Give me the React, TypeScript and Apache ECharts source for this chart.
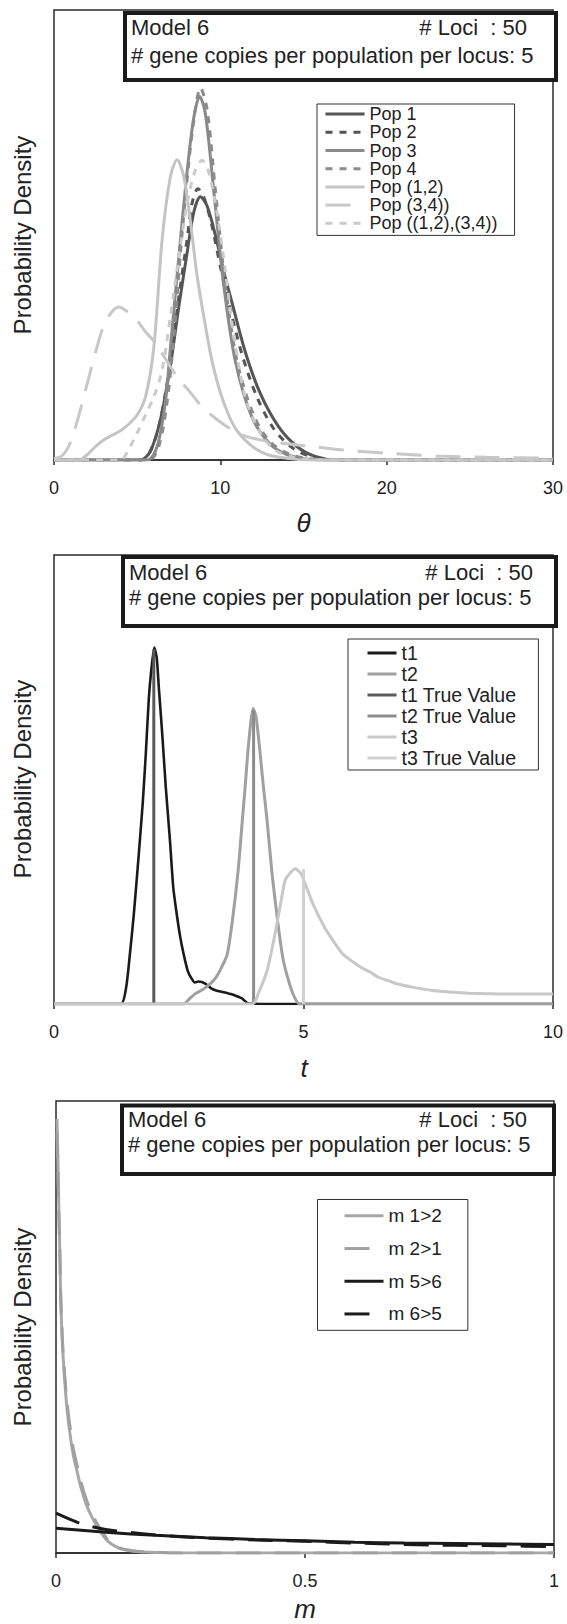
import React, { useEffect, useRef } from "react";
import * as echarts from "echarts";

const FONT = '"Liberation Sans", Arial, Helvetica, sans-serif';
const INK = "#222222";
const FRAME = "#2a2a2a";

// ---------- shared texts ----------
const infoModel = "Model 6";
const infoLoci = "# Loci \u00a0: 50";
const infoCopies = "# gene copies per population per locus: 5";
const yTitle = "Probability Density";

// ---------- chart 1 : theta ----------
const thetaTicks = [0, 10, 20, 30];
const thetaTitle = "θ";
const thetaNames = ["Pop 1", "Pop 2", "Pop 3", "Pop 4", "Pop (1,2)", "Pop (3,4))", "Pop ((1,2),(3,4))"];

const pop1X = [0, 5.2, 5.8, 6.4, 7.0, 7.5, 8.0, 8.4, 8.8, 9.2, 9.7, 10.2, 10.7, 11.5, 12.4, 13.5, 14.6, 15.7, 17.0, 30];
const pop1Y = [0, 0, 0.02, 0.09, 0.21, 0.34, 0.46, 0.55, 0.585, 0.565, 0.5, 0.42, 0.35, 0.24, 0.148, 0.074, 0.03, 0.008, 0, 0];

const pop2X = [0, 5.2, 5.8, 6.4, 7.0, 7.5, 8.0, 8.3, 8.65, 9.0, 9.5, 10.0, 10.5, 11.3, 12.2, 13.2, 14.3, 15.5, 17, 30];
const pop2Y = [0, 0, 0.02, 0.09, 0.22, 0.36, 0.49, 0.57, 0.603, 0.585, 0.52, 0.43, 0.35, 0.235, 0.14, 0.07, 0.028, 0.007, 0, 0];

const pop3X = [0, 5.6, 6.2, 6.7, 7.0, 7.5, 8.0, 8.4, 8.76, 9.1, 9.6, 10.2, 10.9, 11.9, 13.0, 14.0, 15.0, 16.0, 30];
const pop3Y = [0, 0, 0.03, 0.13, 0.25, 0.45, 0.64, 0.76, 0.808, 0.77, 0.6, 0.39, 0.22, 0.095, 0.035, 0.012, 0.003, 0, 0];

const pop4X = [0, 5.7, 6.3, 6.8, 7.2, 7.6, 8.1, 8.5, 8.8, 9.2, 9.7, 10.3, 11.0, 12.0, 13.0, 14.2, 15.5, 16.5, 30];
const pop4Y = [0, 0, 0.03, 0.13, 0.27, 0.46, 0.66, 0.78, 0.827, 0.78, 0.6, 0.39, 0.22, 0.1, 0.04, 0.012, 0.002, 0, 0];

const pop12X = [0, 1.5, 2.0, 2.5, 3.0, 3.5, 4.0, 4.5, 5.0, 5.5, 6.0, 6.5, 7.0, 7.4, 7.8, 8.2, 8.6, 9.0, 9.5, 10.0, 10.5, 11.0, 12.0, 13.0, 14.0, 15, 30];
const pop12Y = [0, 0, 0.012, 0.03, 0.045, 0.055, 0.065, 0.08, 0.1, 0.14, 0.25, 0.49, 0.63, 0.667, 0.63, 0.53, 0.41, 0.32, 0.22, 0.15, 0.1, 0.065, 0.028, 0.01, 0.004, 0, 0];

const pop34X = [0, 0.5, 1.0, 1.5, 2.0, 2.5, 3.0, 3.5, 3.9, 4.4, 5.0, 5.5, 6.1, 6.7, 7.4, 8.2, 8.9, 9.8, 10.7, 11.6, 12.5, 14.0, 15.5, 17.5, 20, 23, 26, 30];
const pop34Y = [0.003, 0.01, 0.04, 0.1, 0.17, 0.24, 0.3, 0.33, 0.34, 0.33, 0.31, 0.285, 0.26, 0.225, 0.185, 0.15, 0.118, 0.09, 0.067, 0.052, 0.044, 0.036, 0.03, 0.022, 0.015, 0.009, 0.006, 0.004];

const popAllX = [0, 4.0, 4.5, 5.0, 5.5, 6.0, 6.5, 7.0, 7.5, 8.0, 8.5, 8.9, 9.3, 9.8, 10.3, 10.8, 11.5, 12.4, 13.3, 14.3, 15.5, 30];
const popAllY = [0, 0, 0.025, 0.06, 0.1, 0.14, 0.2, 0.32, 0.45, 0.57, 0.645, 0.666, 0.64, 0.55, 0.42, 0.28, 0.14, 0.06, 0.022, 0.007, 0, 0];

// ---------- chart 2 : t ----------
const tTicks = [0, 5, 10];
const tTitle = "t";
const tNames = ["t1", "t2", "t1 True Value", "t2 True Value", "t3", "t3 True Value"];

const t1X = [0, 1.34, 1.45, 1.52, 1.6, 1.7, 1.78, 1.84, 1.9, 1.95, 2.01, 2.06, 2.1, 2.17, 2.24, 2.32, 2.39, 2.46, 2.53, 2.6, 2.68, 2.75, 2.82, 2.9, 3.04, 3.15, 3.25, 3.4, 3.54, 3.65, 3.76, 3.9, 4.95, 10];
const t1Y = [0, 0, 0.04, 0.11, 0.2, 0.335, 0.45, 0.558, 0.68, 0.744, 0.794, 0.77, 0.706, 0.6, 0.483, 0.37, 0.26, 0.2, 0.149, 0.11, 0.074, 0.058, 0.048, 0.05, 0.045, 0.035, 0.03, 0.026, 0.022, 0.018, 0.013, 0.001, 0, 0];

const t2X = [0, 2.6, 2.7, 2.82, 2.95, 3.04, 3.15, 3.25, 3.35, 3.47, 3.58, 3.69, 3.76, 3.83, 3.9, 3.99, 4.05, 4.12, 4.2, 4.27, 4.37, 4.48, 4.59, 4.7, 4.8, 4.92, 10];
const t2Y = [0, 0, 0.01, 0.022, 0.03, 0.037, 0.047, 0.06, 0.08, 0.11, 0.19, 0.297, 0.39, 0.483, 0.58, 0.658, 0.64, 0.57, 0.48, 0.409, 0.29, 0.186, 0.1, 0.052, 0.02, 0, 0];

const t3X = [0, 3.98, 4.1, 4.27, 4.4, 4.48, 4.56, 4.63, 4.72, 4.84, 4.95, 5.06, 5.2, 5.42, 5.6, 5.78, 6.0, 6.15, 6.35, 6.51, 6.7, 6.87, 7.2, 7.59, 8.0, 8.32, 8.7, 9.04, 9.5, 10];
const t3Y = [0, 0, 0.025, 0.074, 0.14, 0.186, 0.235, 0.275, 0.29, 0.301, 0.29, 0.26, 0.22, 0.171, 0.14, 0.112, 0.093, 0.082, 0.07, 0.059, 0.052, 0.045, 0.037, 0.03, 0.026, 0.024, 0.023, 0.022, 0.022, 0.022];

const t1TrueX = [2.0, 2.0];
const t1TrueY = [0, 0.79];
const t2TrueX = [4.0, 4.0];
const t2TrueY = [0, 0.655];
const t3TrueX = [5.0, 5.0];
const t3TrueY = [0, 0.3];

// ---------- chart 3 : m ----------
const mTicks = [0, 0.5, 1];
const mTitle = "m";
const mNames = ["m 1>2", "m 2>1", "m 5>6", "m 6>5"];

const m12X = [0.002, 0.004, 0.006, 0.008, 0.0095, 0.013, 0.017, 0.022, 0.028, 0.035, 0.042, 0.05, 0.061, 0.072, 0.083, 0.095, 0.105, 0.12, 0.134, 0.155, 0.178, 0.21, 0.25, 1.0];
const m12Y = [0.96, 0.86, 0.75, 0.65, 0.56, 0.46, 0.39, 0.32, 0.264, 0.215, 0.182, 0.145, 0.107, 0.08, 0.058, 0.038, 0.025, 0.014, 0.008, 0.004, 0.002, 0.001, 0, 0];

const m21X = [0.002, 0.004, 0.006, 0.008, 0.0095, 0.013, 0.017, 0.022, 0.028, 0.035, 0.042, 0.05, 0.061, 0.072, 0.083, 0.095, 0.105, 0.12, 0.134, 0.155, 0.178, 0.21, 0.25, 1.0];
const m21Y = [0.93, 0.84, 0.74, 0.65, 0.57, 0.47, 0.4, 0.335, 0.28, 0.23, 0.195, 0.158, 0.118, 0.088, 0.064, 0.043, 0.028, 0.016, 0.009, 0.005, 0.002, 0.001, 0, 0];

const m56X = [0, 0.1, 0.2, 0.3, 0.4, 0.5, 0.6, 0.7, 0.8, 0.9, 1.0];
const m56Y = [0.055, 0.046, 0.039, 0.034, 0.03, 0.027, 0.024, 0.022, 0.021, 0.02, 0.019];

const m65X = [0, 0.05, 0.1, 0.2, 0.3, 0.4, 0.5, 0.6, 0.7, 0.8, 0.9, 1.0];
const m65Y = [0.088, 0.065, 0.052, 0.04, 0.033, 0.029, 0.026, 0.022, 0.019, 0.017, 0.016, 0.014];

// ---------- helpers ----------
function curve(name: string, xs: number[], ys: number[], color: string, dash: any, gi: number, width = 3, smooth: any = 0.3) {
  return {
    name,
    type: "line",
    xAxisIndex: gi,
    yAxisIndex: gi,
    data: xs.map((x, i) => [x, ys[i]]),
    showSymbol: false,
    symbol: "none",
    smooth,
    silent: true,
    lineStyle: { color, width, type: dash, cap: "butt" },
    itemStyle: { color },
    emphasis: { disabled: true },
  };
}

function xAxisFor(ticks: number[], gi: number) {
  return {
    type: "value",
    gridIndex: gi,
    min: ticks[0],
    max: ticks[ticks.length - 1],
    interval: ticks[1] - ticks[0],
    axisLine: { show: true, lineStyle: { color: FRAME, width: 1.5 } },
    axisTick: { show: true, length: 5, lineStyle: { color: FRAME, width: 1.5 } },
    axisLabel: { color: INK, fontSize: 18, fontFamily: FONT, margin: 19 },
    splitLine: { show: false },
  };
}

function yAxisFor(gi: number) {
  return { type: "value", gridIndex: gi, min: 0, max: 1, show: false, splitLine: { show: false } };
}

function legendFor(names: string[], left: number, top: number, padding: number[], itemWidth: number, fontSize: number, lineHeight: number) {
  return {
    data: names,
    orient: "vertical",
    left,
    top,
    padding,
    itemGap: 0,
    itemWidth,
    itemHeight: 3,
    selectedMode: false,
    borderColor: "#333333",
    borderWidth: 1,
    backgroundColor: "#ffffff",
    itemStyle: { opacity: 0 },
    lineStyle: { width: 3 },
    textStyle: { color: INK, fontSize, fontFamily: FONT, lineHeight },
  };
}

function infoBox(x: number, y: number, w: number, h: number, textX: number, lociRight: number, base1: number, base2: number) {
  const fs = 22;
  const off = 0.347 * fs;
  return [
    { type: "rect", z: 20, shape: { x, y, width: w, height: h }, style: { fill: "#ffffff", stroke: "#1a1a1a", lineWidth: 4 } },
    { type: "text", z: 21, x: textX, y: base1 - off, style: { text: infoModel, fontSize: fs, fontFamily: FONT, fill: INK, align: "left", verticalAlign: "middle" } },
    { type: "text", z: 21, x: lociRight, y: base1 - off, style: { text: infoLoci, fontSize: fs, fontFamily: FONT, fill: INK, align: "right", verticalAlign: "middle" } },
    { type: "text", z: 21, x: textX, y: base2 - off, style: { text: infoCopies, fontSize: fs, fontFamily: FONT, fill: INK, align: "left", verticalAlign: "middle" } },
  ];
}

function yLabel(cy: number) {
  return { type: "text", z: 21, x: 22, y: cy, rotation: Math.PI / 2, style: { text: yTitle, fontSize: 24, fontFamily: FONT, fill: INK, align: "center", verticalAlign: "middle" } };
}

function xTitle(text: string, cx: number, cy: number) {
  return { type: "text", z: 21, x: cx, y: cy, style: { text, fontSize: 26, fontStyle: "italic", fontFamily: FONT, fill: INK, align: "center", verticalAlign: "middle" } };
}

export default function App() {
  const ref = useRef<HTMLDivElement>(null);

  useEffect(() => {
    if (!ref.current) return;
    const chart = echarts.init(ref.current, undefined, { renderer: "svg" });

    const grids = [
      { left: 54, top: 10, width: 499, height: 450 },
      { left: 54, top: 555, width: 499, height: 449 },
      { left: 56, top: 1101, width: 498, height: 452 },
    ].map((g) => ({ ...g, show: true, borderColor: FRAME, borderWidth: 1.5, backgroundColor: "transparent", containLabel: false }));

    const series = [
      curve(thetaNames[0], pop1X, pop1Y, "#555555", "solid", 0),
      curve(thetaNames[1], pop2X, pop2Y, "#555555", [7, 7], 0),
      curve(thetaNames[2], pop3X, pop3Y, "#8a8a8a", "solid", 0),
      curve(thetaNames[3], pop4X, pop4Y, "#8a8a8a", [7, 7], 0),
      curve(thetaNames[4], pop12X, pop12Y, "#c4c4c4", "solid", 0),
      curve(thetaNames[5], pop34X, pop34Y, "#c8c8c8", [25, 14], 0),
      curve(thetaNames[6], popAllX, popAllY, "#cacaca", [7, 7], 0),

      curve(tNames[0], t1X, t1Y, "#1a1a1a", "solid", 1, 2.6, 0.2),
      curve(tNames[1], t2X, t2Y, "#a0a0a0", "solid", 1, 3, 0.2),
      curve(tNames[2], t1TrueX, t1TrueY, "#5a5a5a", "solid", 1, 3, false),
      curve(tNames[3], t2TrueX, t2TrueY, "#8c8c8c", "solid", 1, 3, false),
      curve(tNames[4], t3X, t3Y, "#c8c8c8", "solid", 1, 3, 0.2),
      curve(tNames[5], t3TrueX, t3TrueY, "#d0d0d0", "solid", 1, 3, false),

      curve(mNames[0], m12X, m12Y, "#a8a8a8", "solid", 2, 3, 0.3),
      curve(mNames[1], m21X, m21Y, "#a0a0a0", [25, 14], 2, 3, 0.3),
      curve(mNames[2], m56X, m56Y, "#1a1a1a", "solid", 2, 3, 0.3),
      curve(mNames[3], m65X, m65Y, "#1a1a1a", [25, 14], 2, 3, 0.3),
    ];

    chart.setOption({
      animation: false,
      backgroundColor: "#ffffff",
      grid: grids,
      xAxis: [xAxisFor(thetaTicks, 0), xAxisFor(tTicks, 1), xAxisFor(mTicks, 2)],
      yAxis: [yAxisFor(0), yAxisFor(1), yAxisFor(2)],
      legend: [
        legendFor(thetaNames, 317, 104, [1, 17, 3, 7], 39, 18, 18.2),
        legendFor(tNames, 348, 639, [3.5, 22, 1.5, 18], 29, 19.5, 21),
        legendFor(mNames, 317.5, 1199.5, [0, 26, 0, 25.5], 39, 19, 32.7),
      ],
      series,
      graphic: {
        elements: [
          ...infoBox(125, 13, 431, 67, 131, 527, 35.5, 63),
          ...infoBox(123, 557, 433, 69, 129, 533, 580, 605),
          ...infoBox(122, 1105.5, 432, 68.5, 128, 527, 1127, 1152),
          yLabel(235),
          yLabel(779),
          yLabel(1327),
          xTitle(thetaTitle, 303.5, 523),
          xTitle(tTitle, 304, 1068),
          xTitle(mTitle, 305, 1609),
        ],
      },
    });

    return () => chart.dispose();
  }, []);

  return <div ref={ref} style={{ position: "absolute", left: 0, top: 0, width: 567, height: 1624, background: "#fff" }} />;
}
